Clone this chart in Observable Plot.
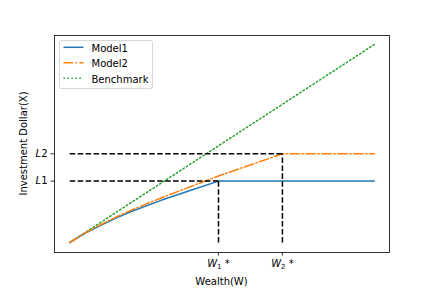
<!DOCTYPE html>
<html><head><meta charset="utf-8">
<script src="https://cdn.jsdelivr.net/npm/d3@7"></script>
<script src="https://cdn.jsdelivr.net/npm/@observablehq/plot@0.6"></script>
<style>body{margin:0;background:#fff} svg{display:block}</style>
</head><body><div id="chart"></div>
<script>
// ---- data ----
const seriesNames = ["Model1", "Model2", "Benchmark"];
const seriesColors = ["#1f77b4", "#ff7f0e", "#2ca02c"];
const seriesDash = [null, "9.6,2.4,1.5,2.4", "1.5,2.475"];

const wealthModel1 = [0, 5, 10, 15, 20, 30, 40, 48.85, 100];
const investModel1 = [0, 4.6, 8.6, 12.2, 15.5, 21.3, 26.5, 31, 31];
const wealthModel2 = [0, 5, 10, 15, 20, 30, 40, 48.85, 60, 69.84, 100];
const investModel2 = [0, 4.7, 8.9, 12.7, 16.2, 22.5, 28.4, 33.6, 39.5, 44.8, 44.8];
const wealthBench = [0, 100];
const investBench = [0, 100];

const xTicks = [48.85, 69.84];
const xTickLabels = ["W_1 *", "W_2 *"];
const yTicks = [31, 44.8];
const yTickLabels = ["L1", "L2"];

// ---- build tables ----
const rows = (xs, ys, name) => xs.map((x, i) => ({W: x, X: ys[i], series: name}));
const m1 = rows(wealthModel1, investModel1, seriesNames[0]);
const m2 = rows(wealthModel2, investModel2, seriesNames[1]);
const bm = rows(wealthBench, investBench, seriesNames[2]);
const [W1, W2] = xTicks;
const [L1, L2] = yTicks;
const segs = [
  {x1: 0, y1: L2, x2: W2, y2: L2},
  {x1: 0, y1: L1, x2: W1, y2: L1},
  {x1: W1, y1: 0, x2: W1, y2: L1},
  {x1: W2, y1: 0, x2: W2, y2: L2}
];

const chart = Plot.plot({
  width: 432, height: 288,
  marginLeft: 54, marginRight: 43, marginTop: 35, marginBottom: 36,
  x: {domain: [-5, 105]},
  y: {domain: [-5.05, 104.55]},
  style: {fontFamily: "DejaVu Sans", fontSize: "10px", color: "black", background: "white"},
  marks: [
    Plot.line(bm, {x: "W", y: "X", stroke: seriesColors[2], strokeWidth: 1.5, strokeDasharray: seriesDash[2]}),
    Plot.line(m1, {x: "W", y: "X", stroke: seriesColors[0], strokeWidth: 1.5}),
    Plot.line(m2, {x: "W", y: "X", stroke: seriesColors[1], strokeWidth: 1.5, strokeDasharray: seriesDash[1]}),
    Plot.link(segs, {x1: "x1", y1: "y1", x2: "x2", y2: "y2", stroke: "black", strokeWidth: 1.5, strokeDasharray: "5.55,2.4"}),
    Plot.axisX(xTicks, {tickSize: 3.5, tickPadding: 3.5, strokeWidth: 0.8, label: null,
      tickFormat: d => xTickLabels[xTicks.indexOf(d)]}),
    Plot.axisY(yTicks, {tickSize: 3.5, tickPadding: 3.5, strokeWidth: 0.8, label: null,
      tickFormat: d => yTickLabels[yTicks.indexOf(d)]}),
    Plot.frame({stroke: "black", strokeWidth: 0.8})
  ]
});
document.getElementById("chart").appendChild(chart);

// ---- mathtext-like tick labels ----
const NS = "http://www.w3.org/2000/svg";
function mathify(t) {
  const s = t.textContent;
  const m = s.match(/^([A-Za-z])(_?)(\d)(.*)$/);
  if (!m) return;
  t.textContent = "";
  const a = document.createElementNS(NS, "tspan");
  a.setAttribute("font-style", "italic"); a.textContent = m[1]; t.appendChild(a);
  const b = document.createElementNS(NS, "tspan");
  b.textContent = m[3];
  if (m[2] === "_") { b.setAttribute("font-size", "7px"); b.setAttribute("dy", "2.2"); }
  t.appendChild(b);
  if (m[4]) {
    const c = document.createElementNS(NS, "tspan");
    if (m[2] === "_") c.setAttribute("dy", "-2.2");
    c.textContent = m[4]; t.appendChild(c);
  }
}
chart.querySelectorAll('g[aria-label="x-axis tick label"] text, g[aria-label="y-axis tick label"] text').forEach(mathify);

// ---- axis titles and legend ----
const svg = d3.select(chart);
svg.append("text").attr("x", 221.5).attr("y", 285).attr("text-anchor", "middle")
  .attr("fill", "black").attr("font-size", 10).text("Wealth(W)");
svg.append("text").attr("transform", "translate(26.5,143.5) rotate(-90)").attr("text-anchor", "middle")
  .attr("fill", "black").attr("font-size", 10).text("Investment Dollar(X)");

const lg = svg.append("g").attr("text-anchor", "start");
lg.append("rect").attr("x", 59.5).attr("y", 40.5).attr("width", 93).attr("height", 48).attr("rx", 2)
  .attr("fill", "white").attr("fill-opacity", 0.8).attr("stroke", "#d6d6d6").attr("stroke-width", 1);
const rowY = [47.3, 62.8, 78.3];
seriesNames.forEach((name, i) => {
  lg.append("line").attr("x1", 63.5).attr("x2", 83.5).attr("y1", rowY[i]).attr("y2", rowY[i])
    .attr("stroke", seriesColors[i]).attr("stroke-width", 1.5)
    .attr("stroke-dasharray", seriesDash[i]);
  lg.append("text").attr("x", 91.5).attr("y", rowY[i] + 4.2).attr("fill", "black")
    .attr("text-anchor", "start").attr("font-size", 10).text(name);
});
</script>
</body></html>
